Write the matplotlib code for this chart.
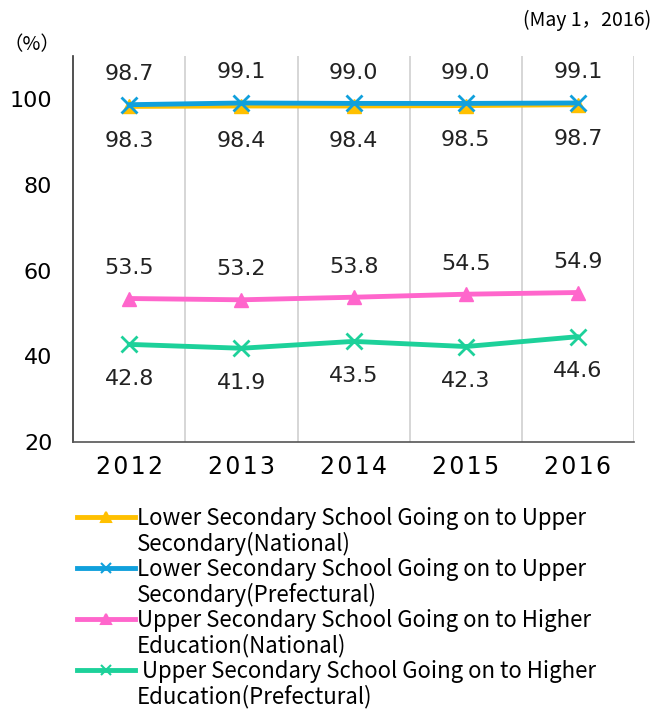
import matplotlib.pyplot as plt
from matplotlib.lines import Line2D

# School going-on rates, national vs prefectural, 2012-2016

years = ['2012', '2013', '2014', '2015', '2016']
lower_national = [98.3, 98.4, 98.4, 98.5, 98.7]
lower_prefectural = [98.7, 99.1, 99.0, 99.0, 99.1]
upper_national = [53.5, 53.2, 53.8, 54.5, 54.9]
upper_prefectural = [42.8, 41.9, 43.5, 42.3, 44.6]
y_ticks = [20, 40, 60, 80, 100]

plt.rcParams['font.family'] = ['Noto Sans CJK JP', 'DejaVu Sans']
num_font = 'DejaVu Sans'

fig = plt.figure(figsize=(6.53, 7.12), dpi=100)
ax = fig.add_axes([0.112, 0.379, 0.859, 0.542])

x = list(range(len(years)))

# (values, colour, marker, marker size, label side)
series = [
    (lower_national, '#FFC000', '^', 10, 'below'),
    (lower_prefectural, '#10A0DC', 'x', 11, 'above'),
    (upper_national, '#FF66CC', '^', 10, 'above'),
    (upper_prefectural, '#1DD19A', 'x', 11, 'below'),
]

for values, color, marker, ms, side in series:
    ax.plot(x, values, color=color, lw=3.5, marker=marker, ms=ms,
            mew=2 if marker == 'x' else 1, solid_capstyle='round', zorder=3)
    dy = 22 if side == 'above' else -25
    for xi, v in zip(x, values):
        ax.annotate(f'{v:.1f}', (xi, v), xytext=(0, dy), textcoords='offset points',
                    ha='center', va='center', fontsize=16, color='#222222',
                    family=num_font)

ax.set_xlim(-0.5, 4.5)
ax.set_ylim(20, 110)
ax.set_yticks(y_ticks)
ax.set_yticklabels([str(t) for t in y_ticks], family=num_font, fontsize=16)
ax.set_xticks(x)
# years are drawn letter-spaced in the original
ax.set_xticklabels(['\u200a'.join(y) for y in years], family=num_font, fontsize=17)
ax.tick_params(axis='y', length=0, pad=15)
ax.tick_params(axis='x', length=0, pad=9)

# vertical separators between categories
for b in [0.5, 1.5, 2.5, 3.5, 4.5]:
    ax.axvline(b, color='#D0D0D0', lw=1.2, zorder=1)

for s in ['top', 'right']:
    ax.spines[s].set_visible(False)
ax.spines['left'].set_color('#333333')
ax.spines['bottom'].set_color('#555555')
ax.spines['left'].set_linewidth(1.2)
ax.spines['bottom'].set_linewidth(1.2)

fig.text(0.005, 0.937, '（%）', fontsize=14, ha='left', va='center')
fig.text(0.997, 0.972, '(May 1，2016)', fontsize=14, ha='right', va='center')

# legend: each entry split over two rows, handle on the first
blank = Line2D([], [], color='none')
handles, labels = [], []
texts = [
    ('Lower Secondary School Going on to Upper', 'Secondary(National)'),
    ('Lower Secondary School Going on to Upper', 'Secondary(Prefectural)'),
    ('Upper Secondary School Going on to Higher', 'Education(National)'),
    (' Upper Secondary School Going on to Higher', 'Education(Prefectural)'),
]
for (values, color, marker, ms, side), (l1, l2) in zip(series, texts):
    handles.append(Line2D([], [], color=color, lw=3.5, marker=marker, ms=7, mew=1.5))
    labels.append(l1)
    handles.append(blank)
    labels.append(l2)

fig.legend(handles, labels, loc='upper left', bbox_to_anchor=(0.118, 0.288),
           frameon=False, fontsize=16, handlelength=2.6, handletextpad=0.1,
           labelspacing=0.09, borderpad=0, borderaxespad=0)

fig.savefig('out.png', dpi=100)
